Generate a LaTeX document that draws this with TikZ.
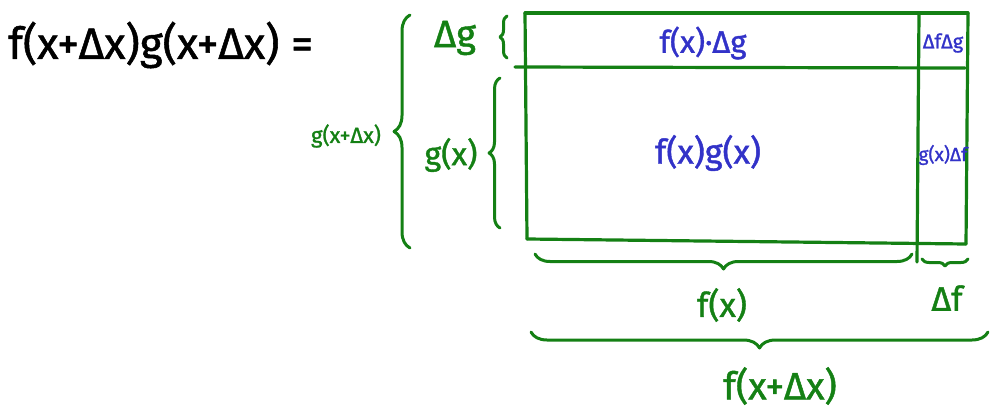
\documentclass[tikz,border=0pt]{standalone}
\usepackage{fontspec}
\setmainfont{Fira Sans}[FakeBold=1.2]
\usetikzlibrary{decorations.pathreplacing}
\definecolor{pen}{RGB}{20,128,20}
\definecolor{ink}{RGB}{50,50,200}
\tikzset{
  gline/.style={draw=pen, line width=3.2pt, line cap=round},
  gbrace/.style={draw=pen, line width=3pt, line cap=round, line join=round, decorate, decoration={brace, amplitude=#1}},
  glabel/.style={text=pen, inner sep=0pt},
  blabel/.style={text=ink, inner sep=0pt},
}
\newcommand{\fs}[1]{\fontsize{#1}{#1}\selectfont}
\begin{document}
\begin{tikzpicture}[x=1pt,y=-1pt]
\useasboundingbox (0,0) rectangle (990,417);
% rectangle corners
\coordinate (tl) at (525,13);
\coordinate (tr) at (968,13);
\coordinate (bl) at (527,239);
\coordinate (br) at (966,244);
\coordinate (ml) at (515,67);
\coordinate (mr) at (965,68);
\coordinate (it) at (919,13);
\coordinate (ib) at (917,262);
\draw[gline] (tl) -- (tr);
\draw[gline] (tl) -- (bl);
\draw[gline] (tr) -- (br);
\draw[gline] (bl) -- (br);
\draw[gline] (ml) -- (mr);
\draw[gline] (it) -- (ib);
% left formula
\node[inner sep=0pt, anchor=west] (lhs) at (8,45) {\fs{44}f(x+Δx)g(x+Δx) =};
% blue texts
\node[blabel] (fdg) at (703,43) {\fs{31}f(x)·Δg};
\node[blabel] (fg) at (708,153) {\fs{34}f(x)g(x)};
\node[blabel] (dfdg) at (943,43) {\fs{20}ΔfΔg};
\node[blabel] (gdf) at (943,155) {\fs{19}g(x)Δf};
% left braces
\coordinate (dgB) at (507,58);
\coordinate (dgT) at (507,16);
\draw[gbrace=7pt] (dgB) -- (dgT);
\node[glabel] (dg) at (455,38) {\fs{38}Δg};
\coordinate (gB) at (500,228);
\coordinate (gT) at (500,78);
\draw[gbrace=11pt] (gB) -- (gT);
\node[glabel] (gx) at (451,155) {\fs{32}g(x)};
\coordinate (GB) at (410,248);
\coordinate (GT) at (410,15);
\draw[gbrace=16pt] (GB) -- (GT);
\node[glabel] (gxdx) at (346,136) {\fs{22}g(x+Δx)};
% bottom braces
\coordinate (fR) at (912,254);
\coordinate (fL) at (535,254);
\draw[gbrace=15pt] (fR) -- (fL);
\node[glabel] (fx) at (722,305) {\fs{34}f(x)};
\coordinate (dfR) at (968,259);
\coordinate (dfL) at (922,259);
\draw[gbrace=7pt] (dfR) -- (dfL);
\node[glabel] (df) at (947,298) {\fs{34}Δf};
\coordinate (FR) at (988,332);
\coordinate (FL) at (531,332);
\draw[gbrace=16pt] (FR) -- (FL);
\node[glabel] (fxdx) at (780,386) {\fs{38}f(x+Δx)};
\end{tikzpicture}
\end{document}
